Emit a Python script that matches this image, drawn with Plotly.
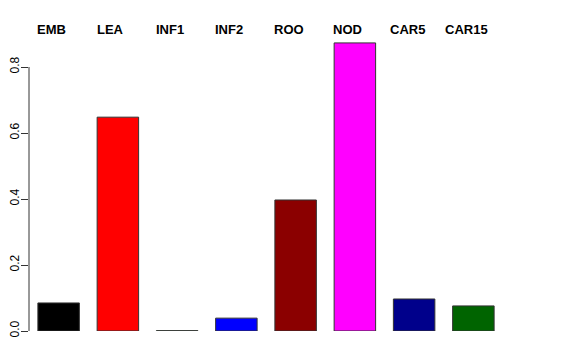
import plotly.graph_objects as go

categories = ["EMB", "LEA", "INF1", "INF2", "ROO", "NOD", "CAR5", "CAR15"]
values = [0.085, 0.648, 0.001, 0.039, 0.397, 0.873, 0.097, 0.076]
colors = ["#000000", "#FF0000", "#00CD00", "#0000FF", "#8B0000", "#FF00FF", "#00008B", "#006400"]
y_ticks = [0.0, 0.2, 0.4, 0.6, 0.8]
y_tick_labels = ["0.0", "0.2", "0.4", "0.6", "0.8"]

fig = go.Figure()
fig.add_trace(go.Bar(
    x=list(range(len(categories))),
    y=values,
    marker=dict(color=colors, line=dict(color="#333333", width=1)),
    width=0.7,
    hoverinfo="skip",
))

for i, c in enumerate(categories):
    fig.add_annotation(x=i, y=1, xref="x", yref="paper", text="<b>%s</b>" % c,
                       showarrow=False, yanchor="middle", xanchor="center",
                       xshift=-7, yshift=5,
                       font=dict(family="Liberation Sans, Arial", size=13, color="black"))

fig.add_shape(type="line", xref="paper", yref="y", x0=0, x1=0, y0=0, y1=0.8,
              line=dict(color="#333333", width=1))

fig.update_layout(
    width=576, height=360,
    margin=dict(l=21, r=81, t=26, b=37, autoexpand=False),
    plot_bgcolor="white", paper_bgcolor="white",
    showlegend=False,
    xaxis=dict(range=[-0.5, 7.5], showticklabels=False, showgrid=False,
               zeroline=False, showline=False, ticks="", automargin=False),
    yaxis=dict(range=[0, 0.9], tickvals=y_ticks, ticktext=y_tick_labels,
               tickangle=-90, ticks="outside", ticklen=7, tickcolor="#333333",
               ticklabelstandoff=-3,
               showgrid=False, zeroline=False, showline=False, automargin=False,
               tickfont=dict(family="Liberation Sans, Arial", size=12, color="black")),
)

fig.write_html("out.html")
